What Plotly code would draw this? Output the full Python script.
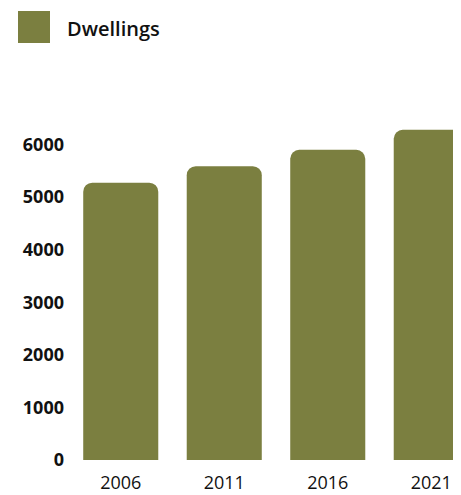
import plotly.graph_objects as go

years = ["2006", "2011", "2016", "2021"]
dwellings = [5275, 5590, 5900, 6280]
series_name = "Dwellings"
y_ticks = [0, 1000, 2000, 3000, 4000, 5000, 6000]

BAR = "#7b7f40"
OFF = 8  # page body margin
W, H = 461 - 2 * OFF, 495 - OFF
L, R, T, B = 61, 0, 84, 35
pw, ph = W - L - R, H - T - B
STEP = 103.5  # px per category in the reference

def px_x(p):
    return (p - OFF - L) / pw

def px_y(p):
    return (H - B - (p - OFF)) / ph

fig = go.Figure(go.Bar(
    x=years, y=dwellings, name=series_name,
    marker=dict(color=BAR, cornerradius=9, line=dict(width=0)),
    showlegend=False,
))

fig.add_shape(type="rect", xref="paper", yref="paper",
              x0=px_x(18), x1=px_x(50), y0=px_y(43), y1=px_y(11),
              fillcolor=BAR, line=dict(width=0))
fig.add_annotation(text=series_name, xref="paper", yref="paper",
                   x=px_x(65), y=px_y(28.5), xanchor="left", yanchor="middle",
                   showarrow=False,
                   font=dict(family="Open Sans", size=20, color="#111111", weight=600))

fig.update_layout(
    width=W, height=H,
    margin=dict(l=L, r=R, t=T, b=B, pad=0, autoexpand=False),
    paper_bgcolor="white", plot_bgcolor="white",
    bargap=0.275,
    font=dict(family="Open Sans", size=18, color="#111111"),
    xaxis=dict(type="category", range=[-0.5, -0.5 + pw / STEP], showgrid=False,
               showline=False, zeroline=False, ticks="",
               tickfont=dict(size=18, color="#111111"),
               ticklabelstandoff=10, automargin=False),
    yaxis=dict(range=[0, 7000], tickvals=y_ticks, showgrid=False, showline=False,
               zeroline=False, ticks="",
               tickfont=dict(size=18, color="#111111", weight="bold"),
               ticklabelstandoff=4, automargin=False),
)

fig.write_html("out.html")
